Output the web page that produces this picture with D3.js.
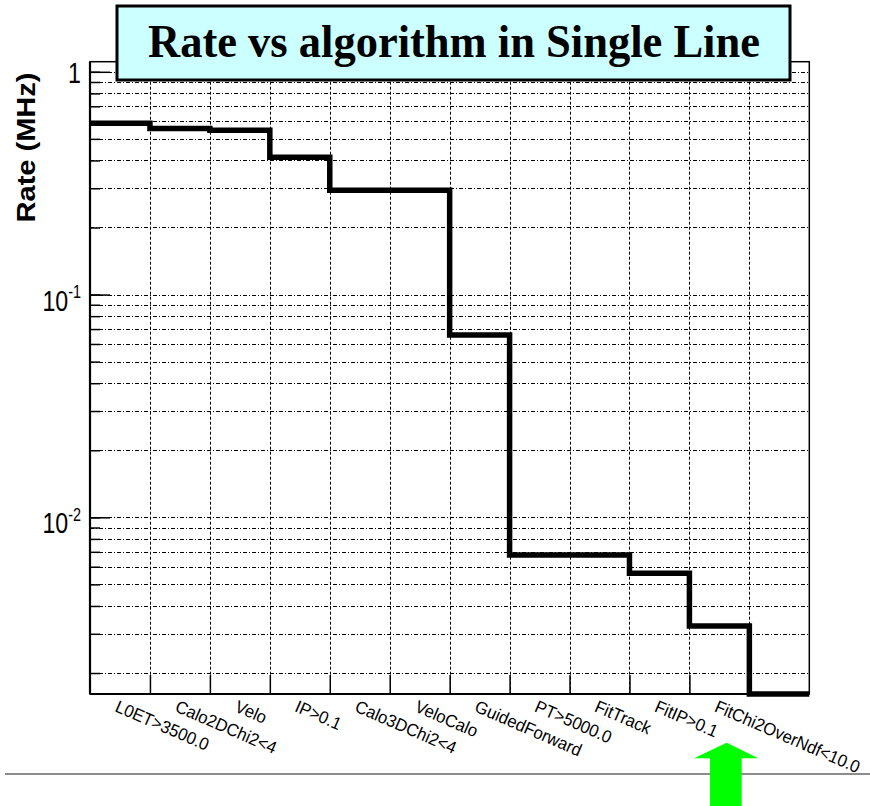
<!DOCTYPE html>
<html>
<head>
<meta charset="utf-8">
<script src="https://cdn.jsdelivr.net/npm/d3@7"></script>
<style>
  body { margin: 0; background: #fff; }
  svg { display: block; }
</style>
</head>
<body>
<div id="chart"></div>
<script>
// bins of the histogram (last bin has no label)
const categories = ["L0ET>3500.0", "Calo2DChi2<4", "Velo", "IP>0.1", "Calo3DChi2<4", "VeloCalo",
                    "GuidedForward", "PT>5000.0", "FitTrack", "FitIP>0.1", "FitChi2OverNdf<10.0", ""];
// rate in MHz per bin
const rates = [0.587, 0.557, 0.547, 0.413, 0.294, 0.294, 0.0658, 0.00677, 0.00677, 0.00561, 0.00325, 0.00161];
const majorTicks = [1, 0.1, 0.01];
const majorLabels = [["1", ""], ["10", "-1"], ["10", "-2"]];
const yDomain = [0.00161, 1.11];

function drawRatePlot(containerId) {
  const W = 870, H = 806;
  const frame = { left: 90, right: 809.3, top: 61.7, bottom: 694 };

  d3.select(`#${containerId}`).html("");
  const svg = d3.select(`#${containerId}`)
    .append("svg")
      .attr("width", W)
      .attr("height", H);

  const x = d3.scaleLinear()
    .domain([0, categories.length])
    .range([frame.left, frame.right]);

  const y = d3.scaleLog()
    .domain(yDomain)
    .range([frame.bottom, frame.top]);

  // all decade subdivisions inside the range
  const minorVals = [];
  for (let k = -3; k <= 0; k++) {
    for (let m = 1; m <= 9; m++) {
      const v = m * Math.pow(10, k);
      if (v >= yDomain[0] && v <= yDomain[1]) minorVals.push(v);
    }
  }

  // grid
  svg.append("g")
    .selectAll("line")
    .data(minorVals)
    .join("line")
      .attr("x1", frame.left)
      .attr("x2", frame.right)
      .attr("y1", d => Math.round(y(d)) + 0.5)
      .attr("y2", d => Math.round(y(d)) + 0.5)
      .attr("stroke", "#000")
      .attr("stroke-width", 1)
      .attr("stroke-dasharray", "4,2,1,2");

  svg.append("g")
    .selectAll("line")
    .data(d3.range(1, categories.length))
    .join("line")
      .attr("x1", d => Math.round(x(d)) + 0.5)
      .attr("x2", d => Math.round(x(d)) + 0.5)
      .attr("y1", frame.top)
      .attr("y2", frame.bottom)
      .attr("stroke", "#000")
      .attr("stroke-width", 1)
      .attr("stroke-dasharray", "3,2");

  // y ticks pointing inward
  svg.append("g")
    .attr("transform", `translate(${frame.left},0)`)
    .call(d3.axisRight(y).tickValues(minorVals).tickSize(10).tickFormat(""))
    .call(g => g.select(".domain").remove())
    .call(g => g.selectAll("line").attr("stroke", "#000").attr("stroke-width", 1.5));

  svg.append("g")
    .attr("transform", `translate(${frame.left},0)`)
    .call(d3.axisRight(y).tickValues(majorTicks).tickSize(20).tickFormat(""))
    .call(g => g.select(".domain").remove())
    .call(g => g.selectAll("line").attr("stroke", "#000").attr("stroke-width", 1.5));

  // x ticks pointing up
  svg.append("g")
    .attr("transform", `translate(0,${frame.bottom})`)
    .call(d3.axisTop(x).tickValues(d3.range(1, categories.length)).tickSize(19).tickFormat(""))
    .call(g => g.select(".domain").remove())
    .call(g => g.selectAll("line").attr("stroke", "#000").attr("stroke-width", 1.5));

  // frame
  svg.append("rect")
    .attr("x", frame.left)
    .attr("y", frame.top)
    .attr("width", frame.right - frame.left)
    .attr("height", frame.bottom - frame.top)
    .attr("fill", "none")
    .attr("stroke", "#000")
    .attr("stroke-width", 1.5);
  svg.append("line")
    .attr("x1", frame.left).attr("x2", frame.left)
    .attr("y1", frame.top).attr("y2", frame.bottom)
    .attr("stroke", "#000").attr("stroke-width", 2.2);
  svg.append("line")
    .attr("x1", frame.left).attr("x2", frame.right)
    .attr("y1", frame.bottom).attr("y2", frame.bottom)
    .attr("stroke", "#000").attr("stroke-width", 2.2);

  // histogram outline
  const pts = rates.map((r, i) => [i, r]).concat([[rates.length, rates[rates.length - 1]]]);
  svg.append("path")
    .datum(pts)
    .attr("fill", "none")
    .attr("stroke", "#000")
    .attr("stroke-width", 5.5)
    .attr("stroke-linejoin", "miter")
    .attr("d", d3.line()
      .x(d => x(d[0]))
      .y(d => y(Math.max(d[1], yDomain[0])))
      .curve(d3.curveStepAfter));

  // y tick labels
  majorTicks.forEach((v, i) => {
    const [base, sup] = majorLabels[i];
    const g = svg.append("g")
      .attr("transform", `translate(81,${y(v)}) scale(0.8,1)`);
    const t = g.append("text")
      .attr("text-anchor", "end")
      .style("font-family", "Liberation Sans, Arial, sans-serif")
      .style("font-size", "29px")
      .attr("fill", "#000");
    if (sup === "") {
      t.attr("y", 11).text(base);
    } else {
      t.attr("y", 16);
      t.append("tspan").text(base);
      t.append("tspan").attr("dy", -12.5).style("font-size", "18px").text(sup);
    }
  });

  // y axis title
  svg.append("text")
    .attr("transform", `translate(35,147.5) rotate(-90)`)
    .attr("text-anchor", "middle")
    .attr("textLength", 150)
    .attr("lengthAdjust", "spacingAndGlyphs")
    .style("font-family", "Liberation Sans, Arial, sans-serif")
    .style("font-weight", "bold")
    .style("font-size", "25px")
    .text("Rate (MHz)");

  // rotated bin labels
  svg.append("g")
    .selectAll("text")
    .data(categories.filter(c => c !== ""))
    .join("text")
      .attr("transform", (d, i) => `translate(${x(i + 0.5) - 6},711) rotate(23.5) scale(0.95,1)`)
      .style("font-family", "Liberation Sans, Arial, sans-serif")
      .style("font-size", "17.5px")
      .attr("fill", "#000")
      .text(d => d);

  // title box
  svg.append("rect")
    .attr("x", 117)
    .attr("y", 6)
    .attr("width", 673)
    .attr("height", 74)
    .attr("fill", "#ccffff")
    .attr("stroke", "#000")
    .attr("stroke-width", 3);
  svg.append("text")
    .attr("x", 454)
    .attr("y", 57)
    .attr("text-anchor", "middle")
    .attr("textLength", 612)
    .attr("lengthAdjust", "spacingAndGlyphs")
    .style("font-family", "Liberation Serif, Times New Roman, serif")
    .style("font-weight", "bold")
    .style("font-size", "47px")
    .text("Rate vs algorithm in Single Line");

  // slide separator and arrow annotation
  svg.append("line")
    .attr("x1", 5).attr("x2", 870)
    .attr("y1", 774).attr("y2", 774)
    .attr("stroke", "#666")
    .attr("stroke-width", 1.5);
  svg.append("polygon")
    .attr("points", "726.7,742.7 758.3,758.3 741.7,758.3 741.7,806 710,806 710,758.3 694,758.3")
    .attr("fill", "#00ff00");
}

document.addEventListener("DOMContentLoaded", function () {
  drawRatePlot("chart");
});
</script>
</body>
</html>
